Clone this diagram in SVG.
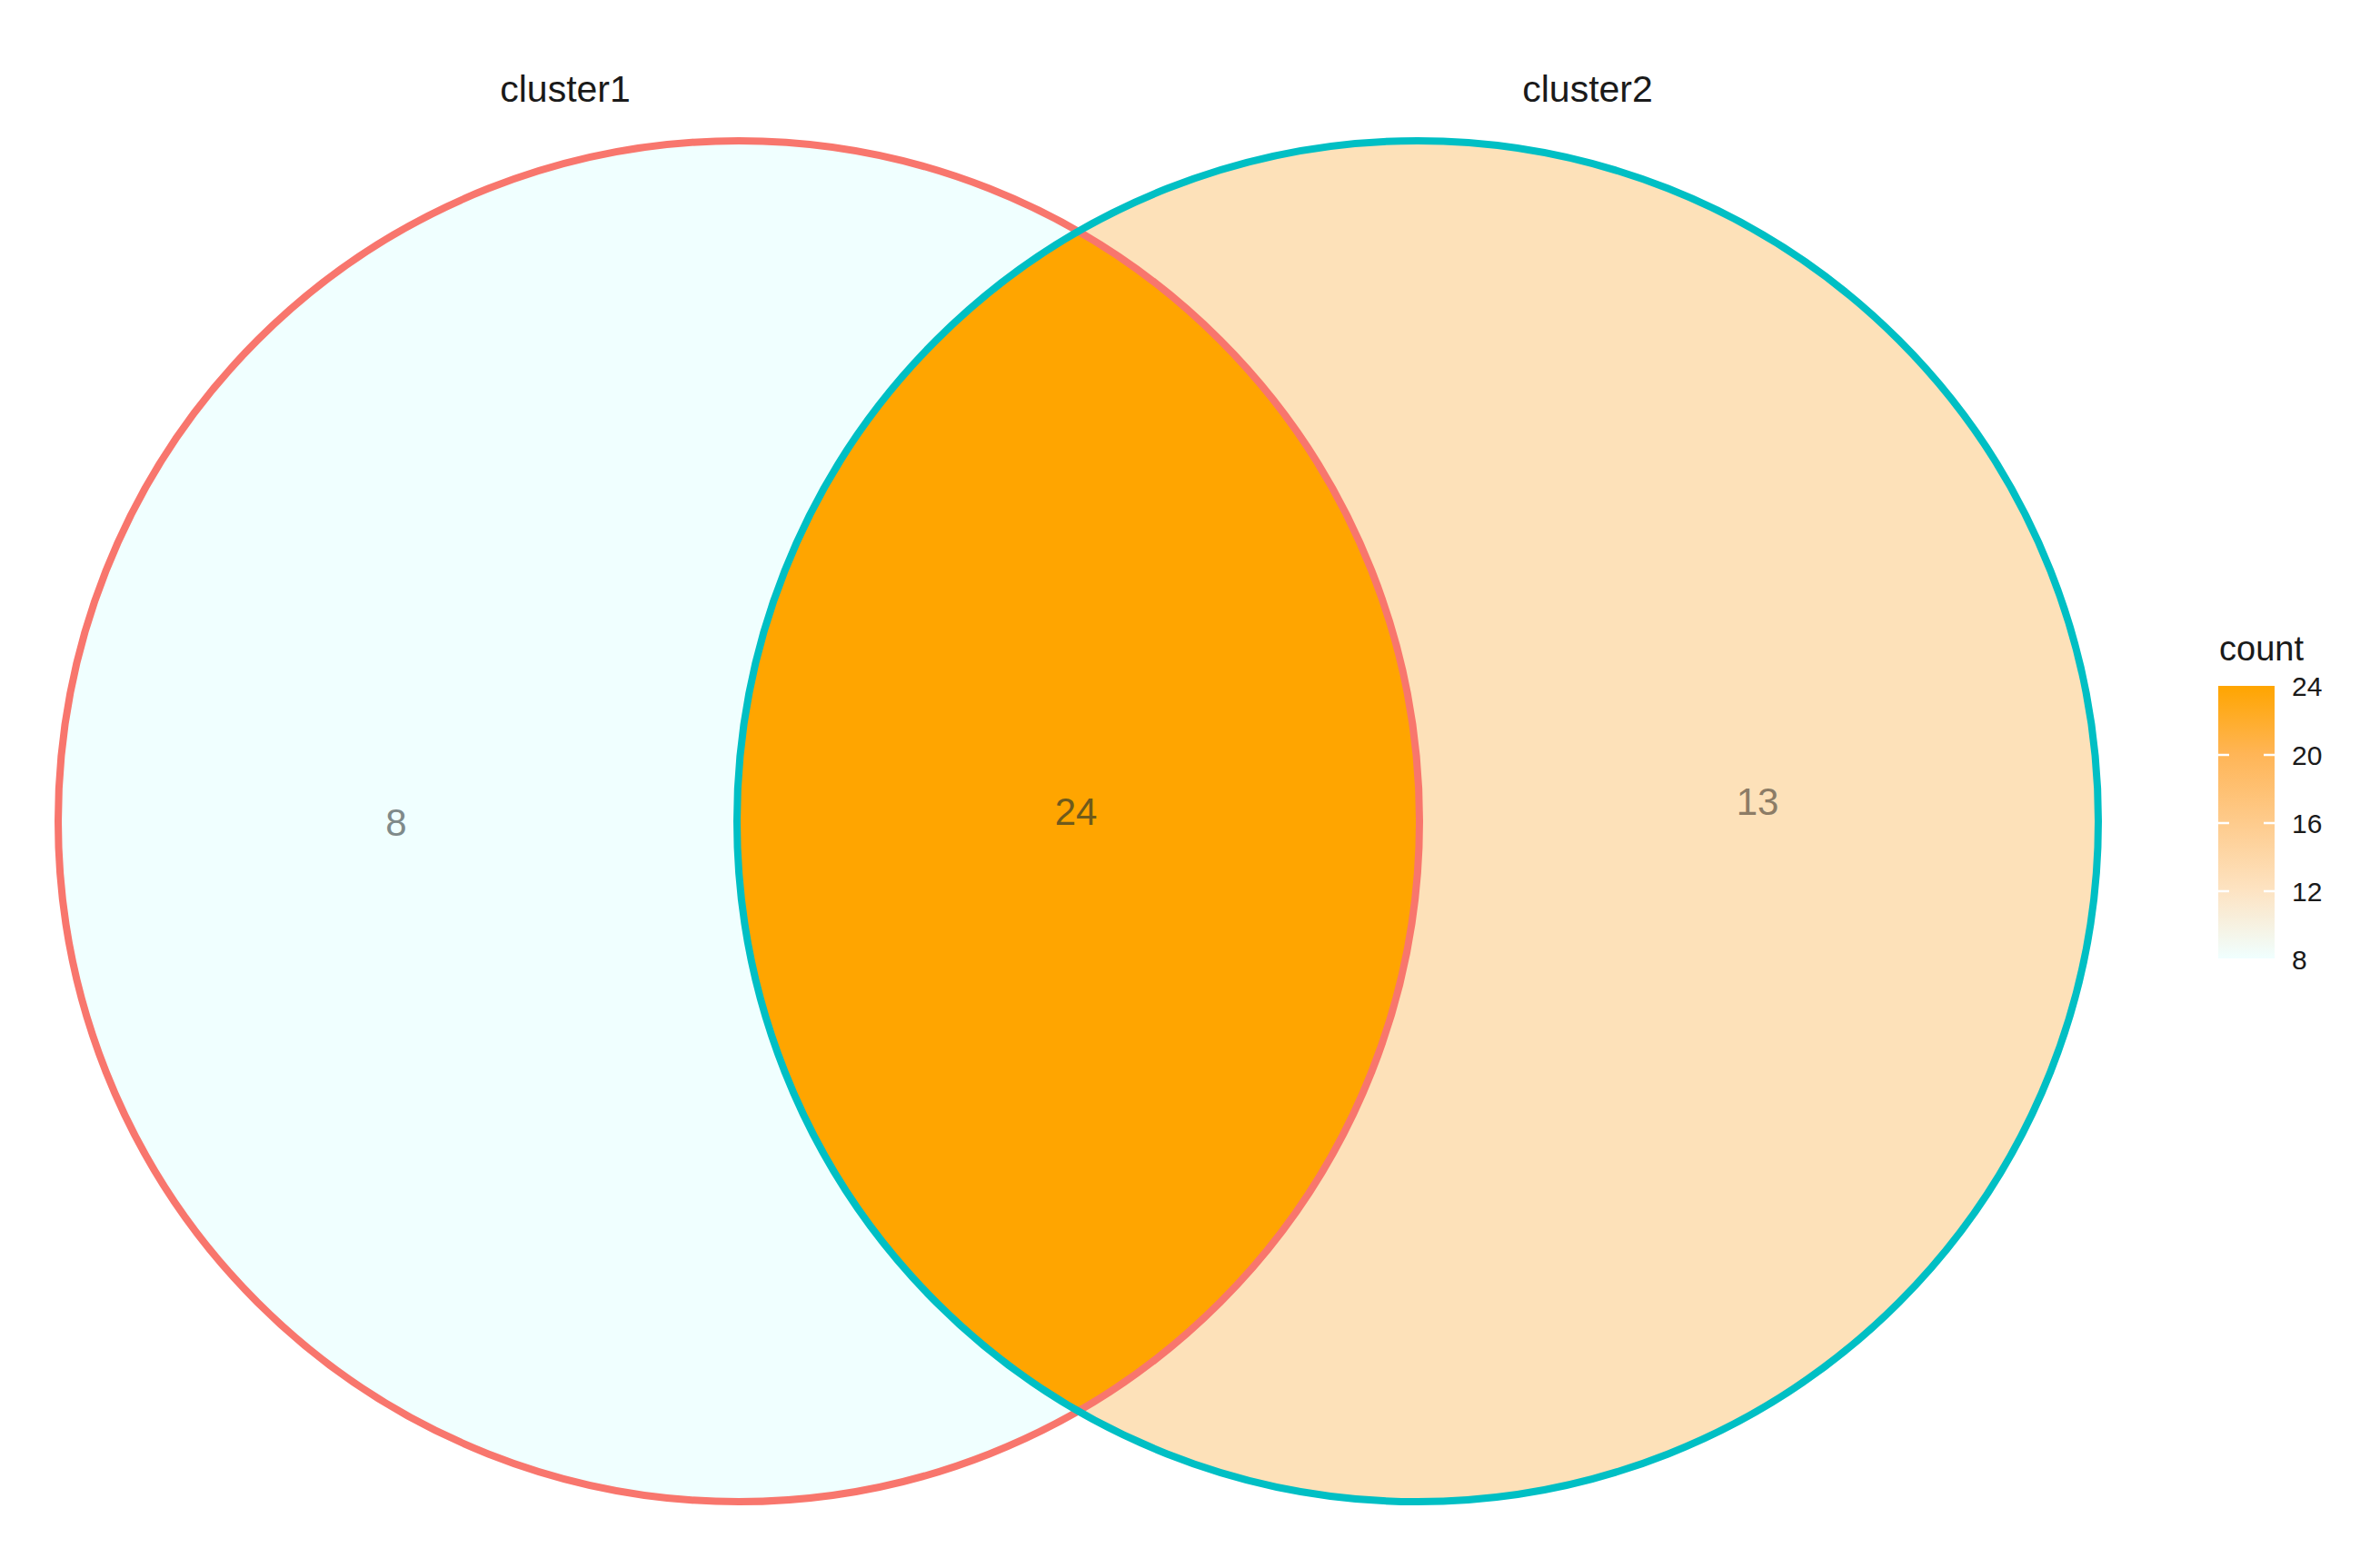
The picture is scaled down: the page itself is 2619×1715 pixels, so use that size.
<svg xmlns="http://www.w3.org/2000/svg" width="2619" height="1715" viewBox="0 0 2619 1715">
<defs>
<style>
.title{font-family:"Liberation Sans",Arial,sans-serif;font-size:41px;fill:#1a1a1a;text-anchor:middle}
.count{font-family:"Liberation Sans",Arial,sans-serif;font-size:42px;text-anchor:middle}
.tick{font-family:"Liberation Sans",Arial,sans-serif;font-size:30px;fill:#1a1a1a}
.tk{stroke:#ffffff;stroke-width:2.5}
</style>
<linearGradient id="grad" x1="0" y1="1" x2="0" y2="0">
<stop offset="0" stop-color="#F0FFFF"/>
<stop offset="0.25" stop-color="#FDE3C2"/>
<stop offset="0.5" stop-color="#FECB8C"/>
<stop offset="0.75" stop-color="#FFB556"/>
<stop offset="1" stop-color="#FFA500"/>
</linearGradient>
</defs>
<rect width="2619" height="1715" fill="#ffffff"/>
<g id="region-cluster1">
<circle cx="813" cy="904" r="749" fill="#F0FFFF"/>
</g>
<g id="region-cluster2">
<circle cx="1560" cy="904" r="749" fill="#FDE1B9"/>
</g>
<g id="region-both">
<path d="M1186.5,254.8 A749,749 0 0 0 1186.5,1553.2 A749,749 0 0 0 1186.5,254.8 Z" fill="#FFA500"/>
</g>
<g id="outlines" fill="none" stroke-width="8">
<circle cx="813" cy="904" r="749" stroke="#F8766D"/>
<circle cx="1560" cy="904" r="749" stroke="#00BFC4"/>
</g>
<g id="labels">
<text class="title" x="622" y="112">cluster1</text>
<text class="title" x="1747" y="112">cluster2</text>
<text class="count" x="436" y="920" fill="#7f8a8a">8</text>
<text class="count" x="1184" y="908" fill="#6e5a1c">24</text>
<text class="count" x="1934" y="897" fill="#8c7c66">13</text>
</g>
<g id="legend">
<text x="2442" y="727" font-family="Liberation Sans, Arial, sans-serif" font-size="38" fill="#1a1a1a">count</text>
<rect x="2441" y="755" width="62" height="300" fill="url(#grad)"/>
<line class="tk" x1="2441" y1="831" x2="2453" y2="831"/><line class="tk" x1="2491" y1="831" x2="2503" y2="831"/>
<line class="tk" x1="2441" y1="906" x2="2453" y2="906"/><line class="tk" x1="2491" y1="906" x2="2503" y2="906"/>
<line class="tk" x1="2441" y1="981" x2="2453" y2="981"/><line class="tk" x1="2491" y1="981" x2="2503" y2="981"/>
<text class="tick" x="2522" y="766">24</text>
<text class="tick" x="2522" y="842">20</text>
<text class="tick" x="2522" y="917">16</text>
<text class="tick" x="2522" y="992">12</text>
<text class="tick" x="2522" y="1067">8</text>
</g>
</svg>
